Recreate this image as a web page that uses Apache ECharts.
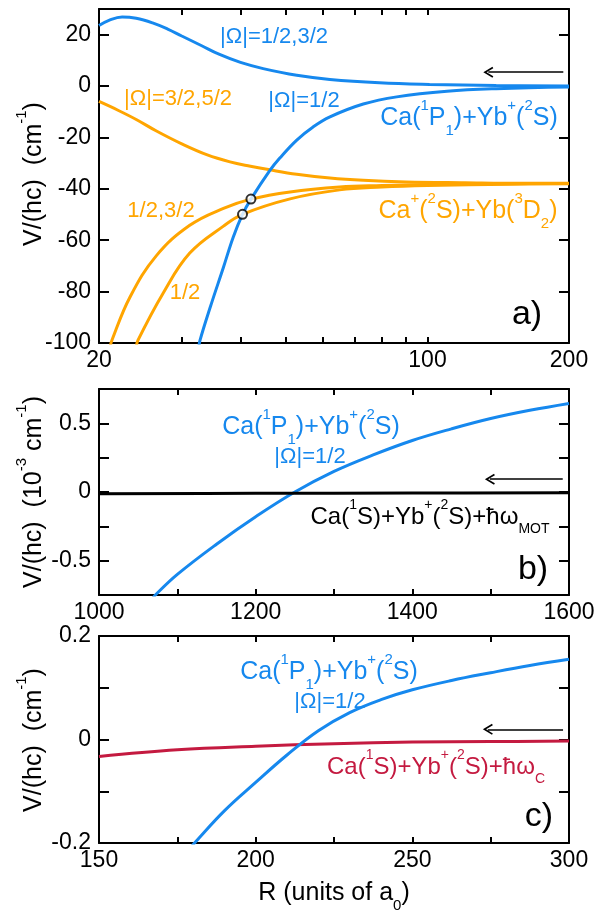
<!DOCTYPE html>
<html>
<head>
<meta charset="utf-8">
<script src="https://cdn.jsdelivr.net/npm/echarts@6/dist/echarts.min.js"></script>
<style>
  html, body { margin: 0; padding: 0; background: #fff; }
  #chart { width: 602px; height: 910px; }
</style>
</head>
<body>
<div id="chart"></div>
<script>
var FONT = '"Liberation Sans", Arial, Helvetica, sans-serif';
var BLUE = '#1688ee', ORANGE = '#ffa500', RED = '#c41a40';

// a) R (a0, log axis) vs V/(hc) in cm^-1
var aBlue12_32 = [[20, 23.6], [21, 25.6], [22.4, 26.9], [24, 26.4], [26, 24.6], [28, 22.2], [30, 19.5],
  [33, 15.8], [36, 12.4], [40, 9.2], [44.7, 6.8], [52.7, 4.2], [62, 2.6], [79, 1.3], [101, 0.66],
  [140, 0.2], [200, 0.0]];
var aBlue12 = [[32.6, -102], [32.8, -99], [34.5, -86], [36.8, -70.5], [38.6, -58.8], [40.4, -49.9],
  [42.1, -44.0], [46.2, -32.8], [48.5, -28.0], [52.7, -21.0], [57, -16.0], [62, -12.0], [73, -7.0],
  [86, -4.2], [110, -2.0], [140, -1.0], [200, -0.35]];
var aOrange32_52 = [[20, -6.0], [22, -9.5], [24, -13.0], [26.5, -17.5], [30, -22.5], [34, -26.8],
  [38, -29.5], [42, -31.2], [46.2, -32.6], [52.7, -34.3], [62, -35.8], [73, -36.7], [90, -37.3],
  [120, -37.6], [160, -37.8], [200, -37.8]];
var aOrange12_32 = [[21.1, -102], [21.3, -99], [23.3, -82], [26.5, -66], [31.2, -54.2], [36.8, -47.6],
  [42.1, -44.0], [51, -41.2], [65, -39.3], [80, -38.7], [100, -38.3], [150, -38.0], [200, -37.9]];
var aOrange12 = [[24.0, -102], [24.2, -99], [27.4, -80.5], [31.2, -65], [36.8, -54.5], [40.4, -49.9],
  [51, -43.9], [65, -40.4], [80, -39.3], [100, -38.7], [150, -38.2], [200, -38.0]];
var aCrossings = [[40.4, -49.9], [42.1, -44.0]];
var aArrow = [[194.5, 5.4], [134.7, 5.4]];
var aTickValues = [20, 30, 40, 50, 60, 70, 80, 90, 100, 200];
var aLabelValues = [20, 100, 200];

// b) R 1000..1600, V/(hc) in 10^-3 cm^-1
var bBlue = [[1068, -0.78], [1072, -0.75], [1100, -0.6], [1150, -0.38], [1200, -0.18], [1250, 0.0],
  [1300, 0.15], [1350, 0.27], [1400, 0.375], [1450, 0.46], [1500, 0.535], [1550, 0.595], [1600, 0.645]];
var bBlack = [[1000, -0.012], [1200, -0.01], [1400, -0.008], [1600, -0.006]];
var bArrow = [[1592, 0.093], [1499, 0.093]];

// c) R 150..300, V/(hc) in cm^-1
var cBlue = [[179.5, -0.207], [180.5, -0.2], [190, -0.138], [200, -0.083], [210, -0.030], [220, 0.017],
  [230, 0.052], [240, 0.077], [250, 0.096], [262.5, 0.114], [275, 0.129], [287.5, 0.143], [300, 0.155]];
var cRed = [[150, -0.033], [175, -0.02], [200, -0.013], [225, -0.008], [250, -0.005], [275, -0.004],
  [300, -0.003]];
var cArrow = [[298.1, 0.0197], [274.1, 0.0197]];

var myChart = echarts.init(document.getElementById('chart'));

// tick marks of the log axis are drawn by a helper value axis laid over it (log10 space)
var aTickPos = aTickValues.map(function (v) { return Math.log10(v); });
var aLogMin = Math.log10(20), aLogMax = Math.log10(200);

function richFor(size, color) {
  var s = Math.round(size * 0.6);
  return {
    sup: { fontSize: s, fontFamily: FONT, color: color, fill: color, lineHeight: Math.round(size * 1.0), verticalAlign: 'top' },
    sub: { fontSize: s, fontFamily: FONT, color: color, fill: color, lineHeight: Math.round(size * 0.9), verticalAlign: 'bottom' }
  };
}

function axis(gridIndex, position, cfg) {
  var isX = position === 'bottom' || position === 'top';
  var main = position === 'bottom' || position === 'left';
  var a = {
    gridIndex: gridIndex,
    position: position,
    type: cfg.type || 'value',
    min: cfg.min,
    max: cfg.max,
    axisLine: { show: cfg.noLine ? false : true, onZero: false, lineStyle: { color: '#000', width: 2 } },
    axisTick: { show: cfg.noTick ? false : true, inside: true, length: isX ? 6 : 10, lineStyle: { color: '#000', width: 2 } },
    axisLabel: { show: main && !cfg.noLabel, color: '#000', fontSize: 23, fontFamily: FONT, margin: isX ? 6 : 8 },
    splitLine: { show: false },
    minorTick: { show: false },
    animation: false
  };
  if (cfg.interval != null) a.interval = cfg.interval;
  if (cfg.logBase) a.logBase = cfg.logBase;
  if (cfg.formatter) a.axisLabel.formatter = cfg.formatter;
  if (cfg.tickValues) a.axisTick.customValues = cfg.tickValues;
  if (cfg.labelValues) a.axisLabel.customValues = cfg.labelValues;
  if (cfg.name) {
    a.name = cfg.name;
    a.nameLocation = 'middle';
    a.nameGap = cfg.nameGap;
    a.nameTextStyle = { color: '#000', fontSize: 25, fontFamily: FONT, lineHeight: 40, rich: richFor(25, '#000') };
  }
  return a;
}

function arrowLine(pts) {
  return {
    silent: true,
    symbol: ['none', 'path://M5,0L10,8.4L8.7,9.2L5,3L1.3,9.2L0,8.4Z'],
    symbolSize: [11, 10],
    lineStyle: { color: '#000', width: 1.6, type: 'solid' },
    label: { show: false },
    emphasis: { disabled: true },
    animation: false,
    data: [[{ coord: pts[0] }, { coord: pts[1] }]]
  };
}

function curve(name, data, color, xi, yi, extra) {
  var s = {
    name: name, type: 'line', data: data, xAxisIndex: xi, yAxisIndex: yi,
    symbol: 'none', smooth: 0.4, clip: true,
    lineStyle: { color: color, width: 3 }, itemStyle: { color: color },
    emphasis: { disabled: true }, animation: false
  };
  for (var k in extra) s[k] = extra[k];
  return s;
}

function txt(x, y, text, color, size, rotation) {
  return {
    type: 'text', x: x, y: y, rotation: rotation || 0, silent: true,
    style: {
      text: text, fill: color, fontSize: size, fontFamily: FONT,
      align: 'center', verticalAlign: 'middle', lineHeight: Math.round(size * 1.6),
      rich: richFor(size, color)
    }
  };
}

var ylabA = function (v) { return v > 25 ? '' : String(v); };
var ylabB = function (v) {
  var r = Math.round(v * 100) / 100;
  return (r === 0 || Math.abs(r) === 0.5) ? String(r) : '';
};
var ylabC = function (v) {
  var r = Math.round(v * 100) / 100;
  return (r === 0 || Math.abs(r) === 0.2) ? String(r) : '';
};
var xlabB = function (v) { return v % 200 === 0 ? String(v) : ''; };
var xlabC = function (v) { return v % 50 === 0 ? String(v) : ''; };

var option = {
  animation: false,
  backgroundColor: '#fff',
  grid: [
    { left: 99, top: 9, width: 470, height: 334, containLabel: false, outerBoundsMode: 'none' },
    { left: 99, top: 389, width: 470, height: 206, containLabel: false, outerBoundsMode: 'none' },
    { left: 99, top: 636, width: 470, height: 207, containLabel: false, outerBoundsMode: 'none' },
    { left: 99, top: 9, width: 470, height: 334, containLabel: false, outerBoundsMode: 'none' }
  ],
  xAxis: [
    axis(0, 'bottom', { type: 'log', logBase: 10, min: 20, max: 200, noTick: true, labelValues: aLabelValues }),
    axis(1, 'bottom', { min: 1000, max: 1600, interval: 100, formatter: xlabB }),
    axis(1, 'top', { min: 1000, max: 1600, interval: 100 }),
    axis(2, 'bottom', { min: 150, max: 300, interval: 25, formatter: xlabC, name: 'R (units of a{sub|0})', nameGap: 27 }),
    axis(2, 'top', { min: 150, max: 300, interval: 25 }),
    axis(3, 'bottom', { min: aLogMin, max: aLogMax, noLine: true, noLabel: true, tickValues: aTickPos }),
    axis(3, 'top', { min: aLogMin, max: aLogMax, noLabel: true, tickValues: aTickPos })
  ],
  yAxis: [
    axis(0, 'left', { min: -100, max: 30, interval: 20, formatter: ylabA }),
    axis(0, 'right', { min: -100, max: 30, interval: 20 }),
    axis(1, 'left', { min: -0.75, max: 0.75, interval: 0.25, formatter: ylabB }),
    axis(1, 'right', { min: -0.75, max: 0.75, interval: 0.25 }),
    axis(2, 'left', { min: -0.2, max: 0.2, interval: 0.1, formatter: ylabC }),
    axis(2, 'right', { min: -0.2, max: 0.2, interval: 0.1 }),
    { gridIndex: 3, type: 'value', min: 0, max: 1, show: false }
  ],
  series: [
    curve('a |Ω|=3/2,5/2', aOrange32_52, ORANGE, 0, 0),
    curve('a |Ω|=1/2,3/2 orange', aOrange12_32, ORANGE, 0, 0),
    curve('a |Ω|=1/2 orange', aOrange12, ORANGE, 0, 0),
    curve('a |Ω|=1/2,3/2 blue', aBlue12_32, BLUE, 0, 0, { markLine: arrowLine(aArrow) }),
    curve('a |Ω|=1/2 blue', aBlue12, BLUE, 0, 0),
    {
      name: 'crossings', type: 'scatter', data: aCrossings, xAxisIndex: 0, yAxisIndex: 0,
      symbol: 'circle', symbolSize: 9, z: 5,
      itemStyle: { color: '#fff', borderColor: '#000', borderWidth: 2 },
      emphasis: { disabled: true }, animation: false
    },
    curve('b blue', bBlue, BLUE, 1, 2),
    curve('b black', bBlack, '#000', 1, 2, { markLine: arrowLine(bArrow) }),
    curve('c red', cRed, RED, 3, 4, { markLine: arrowLine(cArrow) }),
    curve('c blue', cBlue, BLUE, 3, 4)
  ],
  graphic: [
    // y axis titles
    txt(34, 174, 'V/(hc)  (cm{sup|-1})', '#000', 25, Math.PI / 2),
    txt(34, 492, 'V/(hc)  (10{sup|-3} cm{sup|-1})', '#000', 25, Math.PI / 2),
    txt(34, 740, 'V/(hc)  (cm{sup|-1})', '#000', 25, Math.PI / 2),

    txt(274, 37, '|Ω|=1/2,3/2', BLUE, 22),
    txt(178, 99, '|Ω|=3/2,5/2', ORANGE, 22),
    txt(304, 101, '|Ω|=1/2', BLUE, 22),
    txt(469, 118, 'Ca({sup|1}P{sub|1})+Yb{sup|+}({sup|2}S)', BLUE, 25),
    txt(161, 211, '1/2,3/2', ORANGE, 22),
    txt(468, 211, 'Ca{sup|+}({sup|2}S)+Yb({sup|3}D{sub|2})', ORANGE, 25),
    txt(185, 293, '1/2', ORANGE, 22),
    txt(527, 315, 'a)', '#000', 34),

    txt(311, 427, 'Ca({sup|1}P{sub|1})+Yb{sup|+}({sup|2}S)', BLUE, 25),
    txt(310, 457, '|Ω|=1/2', BLUE, 22),
    txt(430, 517, 'Ca({sup|1}S)+Yb{sup|+}({sup|2}S)+ħω{sub|MOT}', '#000', 24),
    txt(533, 570, 'b)', '#000', 34),

    txt(329, 672, 'Ca({sup|1}P{sub|1})+Yb{sup|+}({sup|2}S)', BLUE, 25),
    txt(330, 702, '|Ω|=1/2', BLUE, 22),
    txt(436, 767, 'Ca({sup|1}S)+Yb{sup|+}({sup|2}S)+ħω{sub|C}', RED, 24),
    txt(539, 817, 'c)', '#000', 34)
  ]
};

myChart.setOption(option);
window.addEventListener('resize', function () {
  myChart.resize();
});
</script>
</body>
</html>
